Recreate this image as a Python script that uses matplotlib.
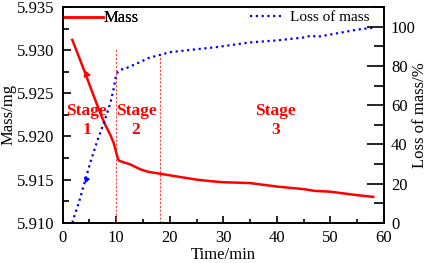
import matplotlib
matplotlib.use("Agg")
import matplotlib.pyplot as plt
from matplotlib.ticker import MultipleLocator

plt.rcParams['font.family'] = ['Liberation Serif', 'DejaVu Serif']
plt.rcParams['mathtext.fontset'] = 'stix'

# Mass (mg) vs time (min)
mass_t = [1.8, 2.5, 4.3, 5.5, 7.1, 8.0, 8.9, 9.5, 9.9, 10.2, 10.5, 11.4, 12.5, 13.5,
          14.5, 16.0, 18.0, 20.0, 22.0, 25.0, 28.0, 30.0, 35.0, 40.0, 45.0, 47.0,
          50.0, 55.0, 58.0]
mass_v = [5.9312, 5.9301, 5.9272, 5.9252, 5.9226, 5.9213, 5.9202, 5.9193, 5.9184,
          5.9177, 5.9172, 5.9170, 5.9168, 5.9165, 5.9162, 5.9159, 5.9157, 5.9155,
          5.9153, 5.9150, 5.9148, 5.9147, 5.9146, 5.9142, 5.9139, 5.9137, 5.9136,
          5.9132, 5.9130]

# Loss of mass (%) vs time (min)
loss_t = [1.8, 2.1, 3.0, 4.3, 5.2, 6.5, 7.4, 8.2, 8.9, 9.5, 9.9, 10.3, 10.8, 12.0,
          14.5, 16.0, 18.0, 20.0, 25.0, 28.5, 35.0, 40.0, 45.0, 46.5, 47.5, 52.0,
          55.0, 58.0]
loss_v = [0.0, 2.7, 10.0, 22.5, 31.0, 42.0, 48.7, 55.0, 61.0, 68.0, 74.0, 77.0,
          78.0, 79.0, 82.0, 84.0, 85.5, 87.0, 88.5, 89.5, 92.0, 93.0, 94.5, 95.5,
          94.8, 97.0, 98.5, 99.5]

stage_lines = [9.9, 18.2]
stage_labels = ["Stage\n1", "Stage\n2", "Stage\n3"]
stage_x = [4.5, 13.7, 39.8]

fig = plt.figure(figsize=(4.29, 2.63), dpi=100)
ax = fig.add_axes([0.146, 0.153, 0.749, 0.820])
ax2 = ax.twinx()

l1, = ax.plot(mass_t, mass_v, color='#ff0000', lw=1.8, label='Mass',
              marker=(3, 0, 21), markevery=[2], markersize=5, zorder=3)
l2, = ax2.plot(loss_t, loss_v, color='#0000ff', lw=1.6, ls=(0, (1, 1.6)),
               label='Loss of mass', marker=(3, 0, 163), markevery=[3], markersize=4)

for xv, ym in zip(stage_lines, [0.81, 0.79]):
    ax.axvline(xv, ymin=0, ymax=ym, color='#ff4040', lw=0.8, ls=(0, (2, 1.5)))

for xs, lab in zip(stage_x, stage_labels):
    ax.text(xs, 5.92185, lab, color='#ff0000', fontsize=12.5, fontweight='bold',
            ha='center', va='center', linespacing=1.3, zorder=4)

ax.set_xlim(0, 60)
ax.set_ylim(5.910, 5.935)
ax2.set_ylim(0, 110)
ax.xaxis.set_major_locator(MultipleLocator(10))
ax.xaxis.set_minor_locator(MultipleLocator(5))
ax.yaxis.set_major_locator(MultipleLocator(0.005))
ax.yaxis.set_minor_locator(MultipleLocator(0.0025))
ax.yaxis.set_major_formatter(matplotlib.ticker.FormatStrFormatter('%.3f'))
ax2.yaxis.set_major_locator(MultipleLocator(20))
ax2.yaxis.set_minor_locator(MultipleLocator(10))

ax.tick_params(axis='x', which='major', direction='in', length=5, width=1.2,
               labelsize=12, pad=5)
ax.tick_params(axis='x', which='minor', direction='in', length=3, width=1.2)
ax.tick_params(axis='y', which='major', direction='in', length=6, width=1.2,
               labelsize=12, pad=6)
ax.tick_params(axis='y', which='minor', direction='in', length=4, width=1.2)
ax2.tick_params(axis='y', which='major', direction='in', length=12, width=1.2,
                labelsize=12, pad=5)
ax2.tick_params(axis='y', which='minor', direction='in', length=7, width=1.2)
for a in (ax, ax2):
    for s in a.spines.values():
        s.set_linewidth(1.2)

ax.set_xlabel('Time/min', fontsize=12, labelpad=1)
ax.set_ylabel('Mass/mg', fontsize=12, labelpad=0)
ax2.set_ylabel('Loss of mass/%', fontsize=12, labelpad=-3)

leg1 = ax.legend(handles=[l1], loc='upper left', bbox_to_anchor=(0.0, 0.985),
                 frameon=False, fontsize=12, handlelength=2.4, handletextpad=0.05,
                 borderpad=0, borderaxespad=0.0)
for h in leg1.legend_handles:
    h.set_marker('')
ax2.legend(handles=[l2], loc='upper right', bbox_to_anchor=(0.955, 0.985),
           frameon=False, fontsize=11, handlelength=2.0, handletextpad=0.6,
           borderpad=0, borderaxespad=0.0)
for h in ax2.get_legend().legend_handles:
    h.set_marker('')
ax.add_artist(leg1)

fig.savefig('out.png', dpi=100)
